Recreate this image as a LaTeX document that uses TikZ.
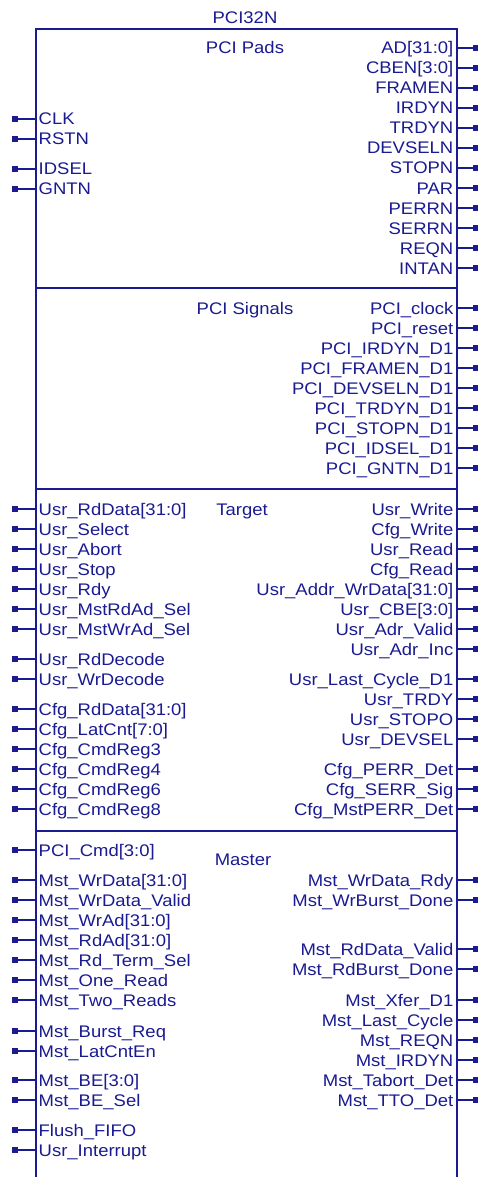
\documentclass[tikz,border=0pt]{standalone}
\usepackage{fontspec}
\setmainfont{Liberation Sans}
\newfontfamily\pinfont[FakeStretch=1.1]{Liberation Sans}
\definecolor{sch}{RGB}{26,26,145}
\begin{document}
\begin{tikzpicture}[x=1pt,y=-1pt,
  lbl/.style={font=\pinfont\fontsize{16.8}{19}\selectfont, text=sch, inner sep=0pt},
  pinline/.style={draw=sch, line width=1.6pt},
  pindot/.style={fill=sch, minimum size=5.2pt, inner sep=0pt, shape=rectangle},
  boxline/.style={draw=sch, line width=2pt}]
\useasboundingbox (0,0) rectangle (477,1177);
% block outline and section dividers
\coordinate (bl) at (36,1177);
\coordinate (tl) at (36,29);
\coordinate (tr) at (457,29);
\coordinate (br) at (457,1177);
\draw[boxline] (bl) -- (tl) -- (tr) -- (br);
\foreach \y in {288,489,831}{
  \coordinate (dl\y) at (36,\y);
  \coordinate (dr\y) at (457,\y);
  \draw[boxline] (dl\y) -- (dr\y);
}
% titles
\node[lbl, anchor=base] (title) at (245,24) {PCI32N};
\node[lbl, anchor=base] (pads) at (245,54) {PCI Pads};
\node[lbl, anchor=base] (signals) at (245,314) {PCI Signals};
\node[lbl, anchor=base] (target) at (242,515) {Target};
\node[lbl, anchor=base] (master) at (243,865) {Master};
% left pins
\foreach \y/\t in {119/CLK, 139/RSTN, 169/IDSEL, 189/GNTN,
  509/Usr\_RdData[31:0], 529/Usr\_Select, 549/Usr\_Abort, 569/Usr\_Stop,
  589/Usr\_Rdy, 609/Usr\_MstRdAd\_Sel, 629/Usr\_MstWrAd\_Sel,
  659/Usr\_RdDecode, 679/Usr\_WrDecode,
  709/Cfg\_RdData[31:0], 729/Cfg\_LatCnt[7:0], 749/Cfg\_CmdReg3,
  769/Cfg\_CmdReg4, 789/Cfg\_CmdReg6, 809/Cfg\_CmdReg8,
  850/PCI\_Cmd[3:0], 880/Mst\_WrData[31:0], 900/Mst\_WrData\_Valid,
  920/Mst\_WrAd[31:0], 940/Mst\_RdAd[31:0], 960/Mst\_Rd\_Term\_Sel,
  980/Mst\_One\_Read, 1000/Mst\_Two\_Reads, 1031/Mst\_Burst\_Req,
  1051/Mst\_LatCntEn, 1080/Mst\_BE[3:0], 1100/Mst\_BE\_Sel,
  1130/Flush\_FIFO, 1150/Usr\_Interrupt}{
  \node[lbl, anchor=base west] (l\y) at (38.5,\y+6) {\t};
  \node[pindot] (ld\y) at (15,\y) {};
  \coordinate (le\y) at (36,\y);
  \draw[pinline] (ld\y.center) -- (le\y);
}
% right pins
\foreach \y/\t in {48/AD[31:0], 68/CBEN[3:0], 88/FRAMEN, 108/IRDYN,
  128/TRDYN, 148/DEVSELN, 168/STOPN, 188/PAR, 208/PERRN, 228/SERRN,
  248/REQN, 268/INTAN,
  308/PCI\_clock, 328/PCI\_reset, 348/PCI\_IRDYN\_D1, 368/PCI\_FRAMEN\_D1,
  388/PCI\_DEVSELN\_D1, 408/PCI\_TRDYN\_D1, 428/PCI\_STOPN\_D1,
  448/PCI\_IDSEL\_D1, 468/PCI\_GNTN\_D1,
  509/Usr\_Write, 529/Cfg\_Write, 549/Usr\_Read, 569/Cfg\_Read,
  589/Usr\_Addr\_WrData[31:0], 609/Usr\_CBE[3:0], 629/Usr\_Adr\_Valid,
  649/Usr\_Adr\_Inc, 679/Usr\_Last\_Cycle\_D1, 699/Usr\_TRDY,
  719/Usr\_STOPO, 739/Usr\_DEVSEL, 769/Cfg\_PERR\_Det,
  789/Cfg\_SERR\_Sig, 809/Cfg\_MstPERR\_Det,
  880/Mst\_WrData\_Rdy, 900/Mst\_WrBurst\_Done, 949/Mst\_RdData\_Valid,
  969/Mst\_RdBurst\_Done, 1000/Mst\_Xfer\_D1, 1020/Mst\_Last\_Cycle,
  1040/Mst\_REQN, 1060/Mst\_IRDYN, 1080/Mst\_Tabort\_Det,
  1100/Mst\_TTO\_Det}{
  \node[lbl, anchor=base east] (r\y) at (453.5,\y+6) {\t};
  \node[pindot] (rd\y) at (476,\y) {};
  \coordinate (re\y) at (457,\y);
  \draw[pinline] (re\y) -- (rd\y.center);
}
\end{tikzpicture}
\end{document}
